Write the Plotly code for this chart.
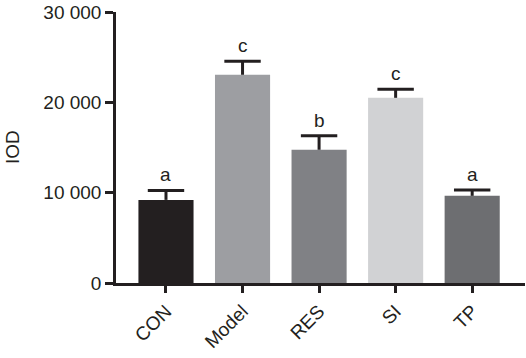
import plotly.graph_objects as go

categories = ["CON", "Model", "RES", "SI", "TP"]
means = [9200, 23050, 14750, 20500, 9650]
errors = [1050, 1500, 1550, 950, 650]
letters = ["a", "c", "b", "c", "a"]
colors = ["#231f20", "#9d9ea2", "#808185", "#d1d2d4", "#6d6e71"]
y_ticks = [0, 10000, 20000, 30000]
y_tick_labels = ["0", "10 000", "20 000", "30 000"]

FONT = "Liberation Sans, Arial, Helvetica"
INK = "#231f20"

tops = [m + e for m, e in zip(means, errors)]

fig = go.Figure()
fig.add_trace(go.Bar(
    x=categories, y=means,
    marker=dict(color=colors, line=dict(width=0)),
    width=0.72,
    showlegend=False, hoverinfo="x+y",
))
# error stems (upper only) with caps
fig.add_trace(go.Scatter(
    x=categories, y=tops, mode="markers",
    marker=dict(symbol="line-ew-open", size=26, line=dict(width=3, color=INK), color=INK),
    error_y=dict(type="data", array=[0] * len(errors), arrayminus=errors, symmetric=False,
                 color=INK, thickness=3, width=0),
    showlegend=False, hoverinfo="skip",
))

for c, t, l in zip(categories, tops, letters):
    fig.add_annotation(x=c, y=t, text=l, showarrow=False, yanchor="bottom",
                       yshift=3, font=dict(size=19, color=INK, family=FONT))

fig.add_annotation(xref="paper", yref="paper", x=-116 / 409, y=0.5, xanchor="left",
                   text="IOD", textangle=-90, showarrow=False,
                   font=dict(size=19, color=INK, family=FONT))

fig.update_layout(
    width=526, height=358,
    margin=dict(l=116, r=1, t=12, b=74.5),
    plot_bgcolor="white", paper_bgcolor="white",
    font=dict(family=FONT, color=INK, size=19),
)
fig.update_xaxes(
    range=[-0.653, 4.69],
    showline=True, linewidth=2.5, linecolor=INK,
    ticks="outside", ticklen=7, tickwidth=2.5, tickcolor=INK,
    tickangle=-45, tickfont=dict(size=19),
    showgrid=False, zeroline=False, automargin=False,
)
fig.update_yaxes(
    range=[0, 30000],
    tickvals=y_ticks, ticktext=y_tick_labels,
    showline=True, linewidth=2.5, linecolor=INK,
    ticks="outside", ticklen=8, tickwidth=2.5, tickcolor=INK,
    tickfont=dict(size=19),
    showgrid=False, zeroline=False, automargin=False,
)

fig.write_html("out.html", config={"displayModeBar": False},
               post_script="document.body.style.margin='0';")
